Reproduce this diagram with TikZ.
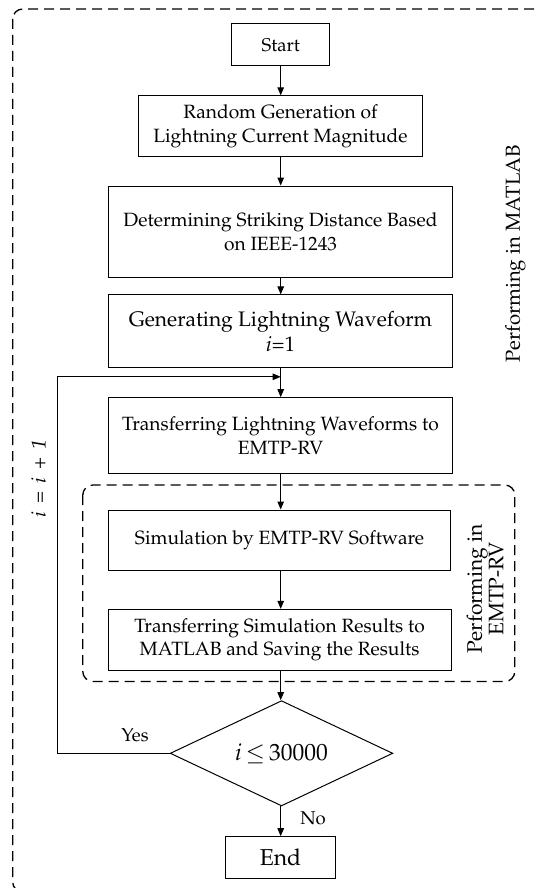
\documentclass[tikz,border=0pt]{standalone}
\usepackage[T1]{fontenc}
\usepackage{mathpazo}
\usetikzlibrary{shapes.geometric,arrows.meta}
\tikzset{
  box/.style={draw, line width=1pt, align=center, inner sep=0pt, font=\fontsize{19.2}{23.7}\selectfont},
  flow/.style={line width=1pt, -{Triangle[length=8pt,width=6.5pt]}},
  grp/.style={line width=1.3pt, dash pattern=on 10pt off 6pt, rounded corners=10pt},
  lbl/.style={font=\fontsize{18.5}{22}\selectfont, align=center, inner sep=0pt},
}
\begin{document}
\begin{tikzpicture}[x=1pt,y=-1pt]
\useasboundingbox (0,0) rectangle (537,888);
\clip (0,0) rectangle (537,888);
\draw[grp] (12.7,9) rectangle (570,892);
\draw[grp] (82.8,485) rectangle (514.8,681.5);

\node[box, minimum width=97.7pt, minimum height=41.7pt, font=\fontsize{18.5}{22}\selectfont] (start) at (280.7,44.8) {Start};
\node[box, minimum width=283.6pt, minimum height=60.3pt] (rand) at (280.5,126) {Random Generation of\\Lightning Current Magnitude};
\node[box, minimum width=343.1pt, minimum height=91.3pt] (det) at (280.5,231.7) {Determining Striking Distance Based\\on IEEE-1243};
\node[box, minimum width=343.1pt, minimum height=72.7pt, font=\fontsize{21}{25}\selectfont] (gen) at (280.5,331.3) {Generating Lightning Waveform\\\textit{i}=1};
\node[box, minimum width=343.1pt, minimum height=75.6pt] (trans) at (280.5,435.5) {Transferring Lightning Waveforms to\\EMTP-RV};
\node[box, minimum width=342.5pt, minimum height=60pt] (sim) at (279.5,540) {Simulation by EMTP-RV Software};
\node[box, minimum width=342.8pt, minimum height=60.7pt] (tsr) at (279.6,639.7) {Transferring Simulation Results to\\MATLAB and Saving the Results};
\node[draw, line width=1pt, diamond, aspect=2.11, inner sep=0pt, minimum width=222.6pt, minimum height=105.3pt, font=\fontsize{23.5}{27}\selectfont] (dec) at (281.5,753.3) {\textit{i}\,$\leq$\,30000};
\node[box, minimum width=110.3pt, minimum height=41.6pt, font=\fontsize{23}{27}\selectfont] (end) at (280.5,857.5) {End};

\coordinate (join) at (280.7,376.8);
\coordinate (lc) at (57.3,376.8);
\coordinate (ld) at (57.3,753.3);

\draw[flow] (start.south -| join) -- (rand.north -| join);
\draw[flow] (rand.south -| join) -- (det.north -| join);
\draw[flow] (det.south -| join) -- (gen.north -| join);
\draw[flow] (gen.south -| join) -- (trans.north -| join);
\draw[flow] (trans.south -| join) -- (sim.north -| join);
\draw[flow] (sim.south -| join) -- (tsr.north -| join);
\draw[flow] (tsr.south -| join) -- (dec.north -| join);
\draw[flow] (dec.south -| join) -- (end.north -| join);
\draw[flow] (dec.west) -- (ld) -- (lc) -- (join);

\node[lbl] (yes) at (135,735) {Yes};
\node[lbl] (no) at (313,818.3) {No};
\node[lbl, rotate=90, font=\fontsize{20}{24}\selectfont] (inc) at (38.5,478.5) {\textit{i}\, = \,\textit{i}\, + \,\textit{1}};
\node[lbl, rotate=90, font=\fontsize{20.3}{24}\selectfont] (matlab) at (515.5,254) {Performing in MATLAB};
\node[lbl, rotate=90, font=\fontsize{21}{21.5}\selectfont] (emtp) at (485,589) {Performing in\\EMTP-RV};
\end{tikzpicture}
\end{document}
